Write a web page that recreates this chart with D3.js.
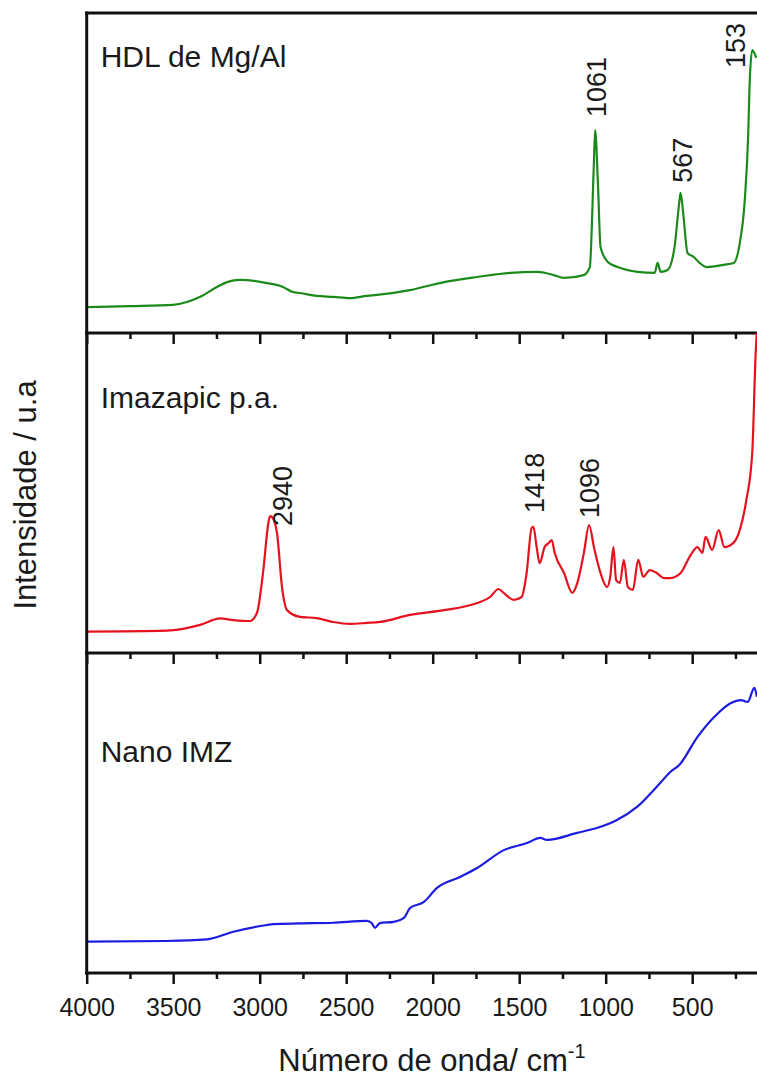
<!DOCTYPE html>
<html>
<head>
<meta charset="utf-8">
<script src="https://cdn.jsdelivr.net/npm/d3@7"></script>
<style>
    body { margin: 0; background: #fff; }
    svg { display: block; font-family: "Liberation Sans", Arial, sans-serif; }
</style>
</head>
<body>
<script>
(function () {
    // HDL de Mg/Al spectrum (wavenumber / relative intensity)
    var hdlWn = [4000, 3750, 3500, 3344, 3247, 3189, 3114, 2958, 2866, 2808, 2767, 2670, 2575, 2478, 2380, 2322,
        2131, 1934, 1743, 1551, 1397, 1300, 1242, 1127, 1092, 1069, 1061, 1045, 1030, 988, 931, 815, 717, 700,
        682, 642, 602, 573, 567, 550, 527, 492, 457, 417, 318, 260, 225, 196, 176, 168, 153, 130];
    var hdlInt = [8.1, 8.4, 8.8, 11.3, 14.4, 15.9, 16.6, 15.6, 14.4, 12.8, 12.5, 11.6, 11.3, 10.9, 11.6, 11.9,
        13.4, 15.9, 17.5, 18.8, 19.1, 18.1, 17.2, 18.1, 20.6, 51.9, 63.4, 46.9, 26.9, 22.2, 20.6, 19.1, 18.8, 21.9,
        19.1, 19.7, 26.9, 41.6, 43.8, 36.3, 25.0, 23.8, 21.9, 20.6, 21.3, 21.9, 28.1, 41.6, 62.5, 78.1, 88.4, 86.0];

    // Imazapic p.a. spectrum
    var imzWn = [4000, 3536, 3344, 3228, 3152, 3056, 3016, 2979, 2950, 2940, 2929, 2900, 2871, 2842, 2767, 2670, 2575,
        2478, 2380, 2305, 2131, 1934, 1743, 1668, 1620, 1590, 1532, 1486, 1457, 1428, 1418, 1399, 1382, 1353,
        1329, 1312, 1295, 1241, 1193, 1164, 1126, 1096, 1068, 1030, 992, 974, 955, 940, 918, 895, 872, 843, 812,
        783, 745, 705, 665, 627, 567, 509, 470, 441, 423, 385, 347, 314, 262, 225, 187, 153, 133, 126];
    var imzInt = [6.7, 7.0, 8.8, 10.8, 10.3, 10.0, 12.5, 25.9, 40.6, 42.8, 42.5, 37.5, 20.6, 13.4, 11.3, 10.9, 9.7,
        9.1, 9.4, 9.7, 11.9, 13.4, 15.6, 17.5, 20.0, 18.8, 16.6, 17.5, 25.0, 39.1, 39.4, 33.1, 28.1, 33.1,
        34.4, 35.3, 31.3, 25.0, 18.8, 21.9, 31.3, 40.0, 33.1, 25.0, 20.6, 23.8, 33.1, 22.8, 21.9, 29.1, 20.6, 19.7, 29.1,
        23.8, 25.9, 25.0, 23.4, 23.4, 25.0, 30.6, 33.1, 31.3, 36.3, 32.2, 38.4, 33.1, 34.4, 38.4, 47.8, 62.5, 93.8, 101];

    // Nano IMZ spectrum
    var nanoWn = [4000, 3536, 3305, 3152, 2958, 2921, 2767, 2575, 2380, 2353, 2334, 2305, 2225, 2167, 2131, 2051,
        1975, 1842, 1743, 1589, 1455, 1378, 1339, 1165, 1034, 935, 819, 685, 627, 575, 469, 373, 276, 218, 179, 141, 126];
    var nanoInt = [9.8, 10.0, 10.5, 12.9, 15.0, 15.3, 15.5, 15.7, 16.3, 15.6, 14.1, 15.6, 16.0, 17.2, 20.3, 22.2,
        26.6, 30.0, 32.8, 38.4, 40.6, 42.2, 41.6, 43.8, 45.6, 47.8, 51.9, 59.4, 62.8, 65.0, 73.8, 80.0, 84.4, 85.3, 84.7, 89.1, 86.3];

    // Panel titles and annotated peaks
    var panelNames = ["HDL de Mg/Al", "Imazapic p.a.", "Nano IMZ"];
    var hdlPeaks = [1061, 567, 153];
    var imzPeaks = [2940, 1418, 1096];

    // Axis ticks
    var majorTicks = [4000, 3500, 3000, 2500, 2000, 1500, 1000, 500];
    var minorTicks = [3750, 3250, 2750, 2250, 1750, 1250, 750, 250];

    var width = 757;
    var height = 1077;
    var left = 86.7;
    var top = 13;
    var panelH = 320;

    var series = [
        { wn: hdlWn, val: hdlInt, color: "#1b8a1b", peaks: hdlPeaks },
        { wn: imzWn, val: imzInt, color: "#e5121d", peaks: imzPeaks },
        { wn: nanoWn, val: nanoInt, color: "#1c1ce0", peaks: [] }
    ];

    // Per-label nudges (dx px right of peak, gap px above peak tip)
    var labelShift = {
        1061: [11, 13], 567: [11, 10], 153: [-7, -18],
        2940: [22, -10], 1418: [11, 14], 1096: [10, 7]
    };

    var svg = d3.select("body").append("svg")
        .attr("width", width)
        .attr("height", height);

    var x = d3.scaleLinear().domain([4000, 0]).range([left, left + 692]);

    series.forEach(function (s, i) {
        var y0 = top + i * panelH;
        var y = d3.scaleLinear().domain([0, 100]).range([y0 + panelH, y0]);

        svg.append("clipPath")
            .attr("id", "clip" + i)
            .append("rect")
            .attr("x", left)
            .attr("y", y0)
            .attr("width", width - left)
            .attr("height", panelH);

        var pts = s.wn.map(function (w, k) { return [w, s.val[k]]; });

        var line = d3.line()
            .curve(d3.curveMonotoneX)
            .x(function (d) { return x(d[0]); })
            .y(function (d) { return y(d[1]); });

        svg.append("path")
            .datum(pts)
            .attr("clip-path", "url(#clip" + i + ")")
            .attr("fill", "none")
            .attr("stroke", s.color)
            .attr("stroke-width", 2.2)
            .attr("stroke-linejoin", "round")
            .attr("d", line);

        // Panel name
        svg.append("text")
            .attr("x", left + 14)
            .attr("y", y0 + [54, 75, 109][i])
            .attr("font-size", 30)
            .attr("fill", "#1a1a1a")
            .text(panelNames[i]);

        // Peak labels, rotated; tip taken from the nearest data point
        s.peaks.forEach(function (p) {
            var near = d3.least(pts, function (d) { return Math.abs(d[0] - p); });
            var sh = labelShift[p];
            var px = x(p) + sh[0];
            var py = y(near[1]) - sh[1];
            svg.append("text")
                .attr("transform", "translate(" + px + "," + py + ") rotate(-90)")
                .attr("font-size", 27)
                .attr("fill", "#1a1a1a")
                .text(p);
        });

        // Bottom axis of each panel, ticks pointing down
        var axisY = y0 + panelH;
        var axis = d3.axisBottom(x)
            .tickValues(majorTicks)
            .tickSize(11)
            .tickFormat(d3.format("d"));
        var g = svg.append("g")
            .attr("transform", "translate(0," + axisY + ")")
            .call(axis);
        g.select(".domain").remove();
        g.selectAll(".tick line").attr("stroke", "#111").attr("stroke-width", 2.5);
        if (i < 2) {
            g.selectAll(".tick text").remove();
        } else {
            g.selectAll(".tick text")
                .attr("font-size", 25)
                .attr("font-family", "Liberation Sans, Arial, sans-serif")
                .attr("fill", "#1a1a1a")
                .attr("dy", null)
                .attr("y", 43);
        }

        var minor = d3.axisBottom(x).tickValues(minorTicks).tickSize(6).tickFormat("");
        var gm = svg.append("g")
            .attr("transform", "translate(0," + axisY + ")")
            .call(minor);
        gm.select(".domain").remove();
        gm.selectAll(".tick text").remove();
        gm.selectAll(".tick line").attr("stroke", "#111").attr("stroke-width", 2.5);

        svg.append("line")
            .attr("x1", left - 1.5)
            .attr("x2", width)
            .attr("y1", axisY)
            .attr("y2", axisY)
            .attr("stroke", "#111")
            .attr("stroke-width", 3);
    });

    // Top border and left axis
    svg.append("line")
        .attr("x1", left - 1.5).attr("x2", width)
        .attr("y1", top).attr("y2", top)
        .attr("stroke", "#111").attr("stroke-width", 3);

    svg.append("line")
        .attr("x1", left).attr("x2", left)
        .attr("y1", top - 1.5).attr("y2", top + 3 * panelH + 1.5)
        .attr("stroke", "#111").attr("stroke-width", 3);

    // Axis titles
    svg.append("text")
        .attr("transform", "translate(36,495) rotate(-90)")
        .attr("text-anchor", "middle")
        .attr("font-size", 31)
        .attr("fill", "#1a1a1a")
        .text("Intensidade / u.a");

    var xt = svg.append("text")
        .attr("x", 432)
        .attr("y", 1071)
        .attr("text-anchor", "middle")
        .attr("font-size", 31)
        .attr("fill", "#1a1a1a");
    xt.append("tspan").text("Número de onda/ cm");
    xt.append("tspan").attr("font-size", 20).attr("dy", -13).text("-1");
})();
</script>
</body>
</html>
